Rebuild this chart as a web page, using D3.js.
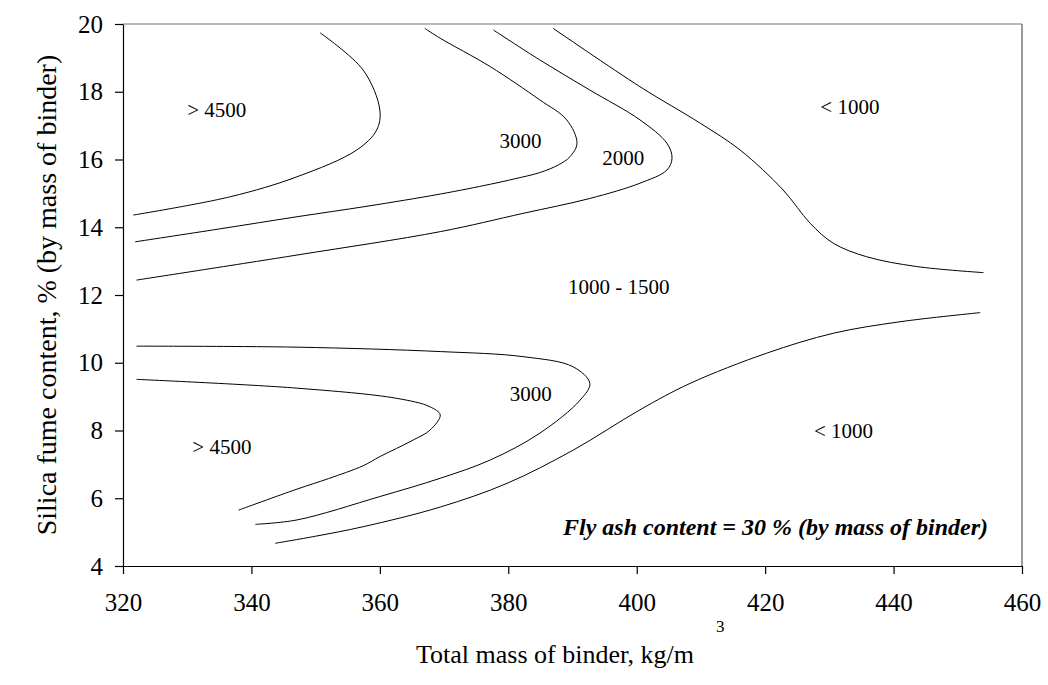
<!DOCTYPE html>
<html>
<head>
<meta charset="utf-8">
<script src="https://cdn.jsdelivr.net/npm/d3@7"></script>
<style>
  body { margin: 0; background: #fff; }
  svg { display: block; }
  text { font-family: "Liberation Serif", "Times New Roman", serif; }
</style>
</head>
<body>
<div id="chart"></div>
<script>
// axis ticks
const xTicks = [320, 340, 360, 380, 400, 420, 440, 460];
const yTicks = [4, 6, 8, 10, 12, 14, 16, 18, 20];

// contour lines, [binder kg/m3, silica fume %]
const upper4500 = [[350.7,19.74],[357.4,18.64],[360.0,17.46],[359.5,16.87],[356.4,16.28],[347.1,15.49],[336.7,14.90],[321.6,14.36]];
const upper3000 = [[367.0,19.87],[369.4,19.58],[377.2,18.74],[384.9,17.76],[389.1,17.17],[390.7,16.48],[389.6,16.08],[387.8,15.84],[385.0,15.62],[381.0,15.43],[377.2,15.27],[369.4,14.98],[358.0,14.62],[347.1,14.31],[335.0,13.95],[321.9,13.57]];
const upper2000 = [[377.7,19.82],[384.9,18.94],[392.7,18.05],[400.5,17.17],[404.7,16.48],[405.5,16.04],[404.7,15.69],[400.5,15.30],[392.7,14.85],[382.3,14.41],[369.4,13.87],[347.1,13.18],[322.1,12.44]];
const upper1000 = [[387.0,19.87],[400.5,18.15],[409.9,17.07],[416.1,16.28],[422.8,15.10],[427.0,14.12],[430.6,13.53],[435.8,13.13],[443.6,12.84],[454.0,12.66]];
const lower3000 = [[322.1,10.49],[347.1,10.46],[369.4,10.33],[382.3,10.18],[390.1,9.88],[392.7,9.39],[391.2,8.90],[384.9,7.92],[377.2,7.13],[369.4,6.59],[360.0,6.05],[347.1,5.36],[340.6,5.23]];
const lower4500 = [[322.1,9.51],[347.1,9.25],[362.6,8.95],[367.8,8.70],[369.4,8.46],[367.8,8.01],[365.2,7.72],[362.6,7.47],[360.0,7.23],[357.4,6.96],[352.0,6.58],[347.1,6.27],[338.0,5.65]];
const lower1000 = [[343.7,4.67],[350.0,4.88],[357.4,5.16],[369.4,5.74],[379.8,6.44],[390.1,7.42],[400.5,8.61],[408.3,9.39],[420.2,10.28],[430.6,10.87],[441.0,11.21],[453.5,11.48]];
const contours = [upper4500, upper3000, upper2000, upper1000, lower3000, lower4500, lower1000];

// region labels
const labelText = ["> 4500", "3000", "2000", "1000 - 1500", "< 1000", "> 4500", "3000", "< 1000"];
const labelX = [334.6, 381.9, 397.9, 397.2, 433.2, 335.4, 383.5, 432.2];
const labelY = [17.46, 16.57, 16.04, 12.25, 17.56, 7.52, 9.10, 8.01];

const width = 1048, height = 685;
const margin = {top: 24, right: 26, bottom: 119, left: 123};
const w = width - margin.left - margin.right,
      h = height - margin.top - margin.bottom;

const svg = d3.select("#chart").append("svg")
    .attr("width", width)
    .attr("height", height);

const g = svg.append("g")
    .attr("transform", "translate(" + margin.left + "," + margin.top + ")");

const x = d3.scaleLinear().domain([320, 460]).range([0, w]);
const y = d3.scaleLinear().domain([4, 20]).range([h, 0]);

// frame: top and right in grey
g.append("line")
    .attr("x1", 0).attr("x2", w).attr("y1", 0).attr("y2", 0)
    .attr("stroke", "#777").attr("stroke-width", 1.2);
g.append("line")
    .attr("x1", w).attr("x2", w).attr("y1", 0).attr("y2", h)
    .attr("stroke", "#555").attr("stroke-width", 1.2);

// axes
function styleAxis(a) {
    a.attr("font-family", "Liberation Serif").attr("font-size", 25);
    a.selectAll("path, line").attr("stroke", "#000").attr("stroke-width", 1.2);
    a.selectAll("text").attr("fill", "#000").attr("font-family", "Liberation Serif");
}

g.append("g")
    .attr("transform", "translate(0," + h + ")")
    .call(d3.axisBottom(x).tickValues(xTicks).tickSize(8).tickSizeOuter(0).tickPadding(19))
    .call(styleAxis);

g.append("g")
    .call(d3.axisLeft(y).tickValues(yTicks).tickSize(8).tickSizeOuter(0).tickPadding(12))
    .call(styleAxis);

// contour lines
const line = d3.line()
    .x(d => x(d[0]))
    .y(d => y(d[1]))
    .curve(d3.curveCatmullRom.alpha(0.5));

g.selectAll(".contour")
    .data(contours)
    .enter().append("path")
    .attr("class", "contour")
    .attr("d", line)
    .attr("fill", "none")
    .attr("stroke", "#000")
    .attr("stroke-width", 1);

// region labels
g.selectAll(".region")
    .data(labelText)
    .enter().append("text")
    .attr("class", "region")
    .attr("x", (d, i) => x(labelX[i]))
    .attr("y", (d, i) => y(labelY[i]))
    .attr("dy", "0.35em")
    .attr("text-anchor", "middle")
    .attr("font-size", 21)
    .text(d => d);

// note
g.append("text")
    .attr("x", w - 34)
    .attr("y", h - 31)
    .attr("text-anchor", "end")
    .attr("font-size", 24)
    .attr("font-weight", "bold")
    .attr("font-style", "italic")
    .text("Fly ash content = 30 % (by mass of binder)");

// axis titles
svg.append("text")
    .attr("x", 555)
    .attr("y", 663)
    .attr("text-anchor", "middle")
    .attr("font-size", 26)
    .text("Total mass of binder, kg/m");
svg.append("text")
    .attr("x", 716)
    .attr("y", 632)
    .attr("font-size", 17)
    .text("3");

svg.append("text")
    .attr("transform", "translate(56," + (margin.top + h / 2) + ") rotate(-90)")
    .attr("text-anchor", "middle")
    .attr("font-size", 28)
    .text("Silica fume content, % (by mass of binder)");
</script>
</body>
</html>
